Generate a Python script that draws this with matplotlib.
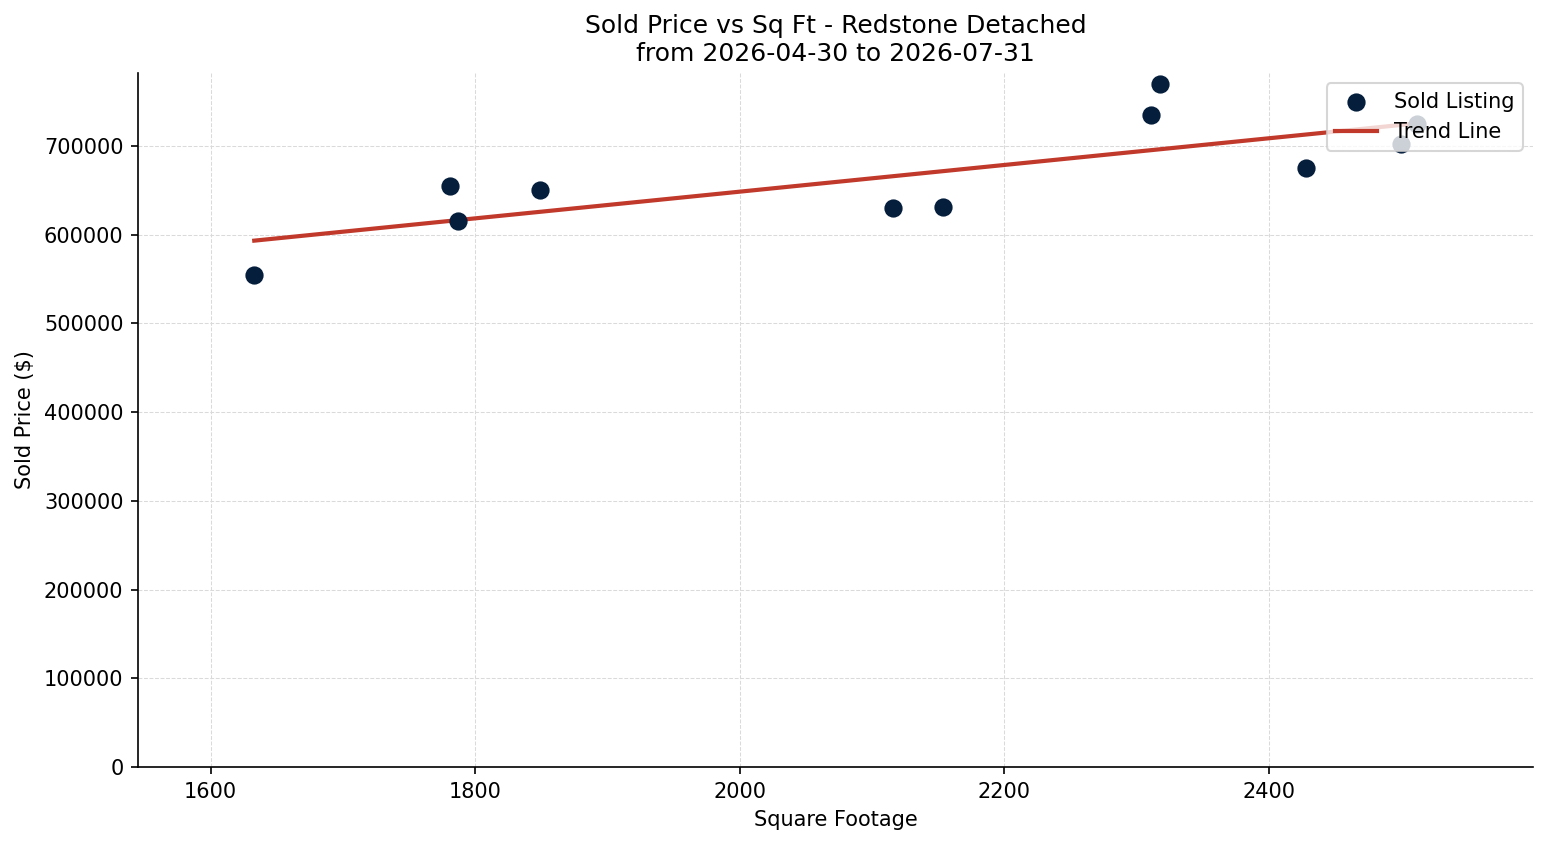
import numpy as np
import matplotlib
matplotlib.use("Agg")
import matplotlib.pyplot as plt

# data
sqft = [1633, 1781, 1787, 1849, 2116, 2154, 2311, 2318, 2428, 2500, 2512]
price = [555000, 655000, 615000, 650000, 630000, 631000, 735000, 770000,
         675000, 702000, 725000]
start_date = "2026-04-30"
end_date = "2026-07-31"
community = "Redstone Detached"

x = np.array(sqft, dtype=float)
y = np.array(price, dtype=float)

fig = plt.figure(figsize=(1547 / 150, 845 / 150), dpi=150)
ax = fig.add_axes([0.0892, 0.0923, 0.9018, 0.8213])
ax.scatter(x, y, s=60, color="#041e3c", label="Sold Listing", zorder=3)

# linear trend
m, b = np.polyfit(x, y, 1)
xs = np.array([x.min(), x.max()])
ax.plot(xs, m * xs + b, color="#c0392b", linewidth=2, label="Trend Line",
        zorder=2)

rng = x.max() - x.min()
ax.set_xlim(x.min() - 0.1 * rng, x.max() + 0.1 * rng)
ax.set_ylim(0, y.max() * 1.016)

ax.set_title("Sold Price vs Sq Ft - " + community + "\nfrom " + start_date
             + " to " + end_date, fontsize=12)
ax.set_xlabel("Square Footage")
ax.set_ylabel("Sold Price ($)")
ax.grid(True, linestyle="--", linewidth=0.5, color="#dadada")
ax.set_axisbelow(True)
ax.spines["top"].set_visible(False)
ax.spines["right"].set_visible(False)
ax.legend(loc="upper right")

plt.savefig("out.png", dpi=150)
